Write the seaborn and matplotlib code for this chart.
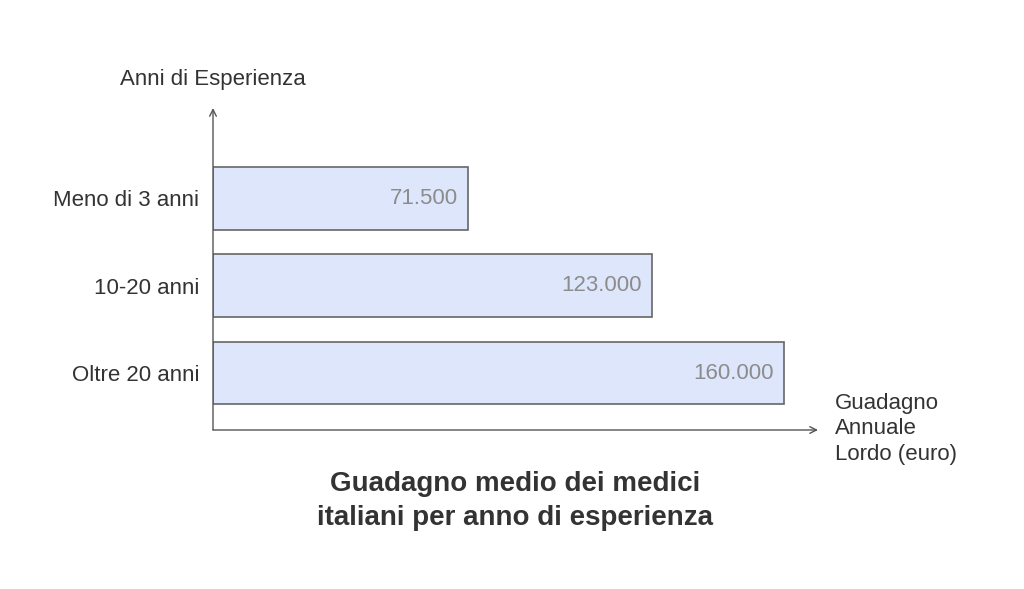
import matplotlib
matplotlib.use("Agg")
import matplotlib.pyplot as plt
import seaborn as sns
import pandas as pd

categories = ["Meno di 3 anni", "10-20 anni", "Oltre 20 anni"]
values = [71500, 123000, 160000]
value_labels = ["71.500", "123.000", "160.000"]

sns.set_theme(style="white")
plt.rcParams["font.family"] = ["Liberation Sans", "DejaVu Sans"]

df = pd.DataFrame({"cat": categories, "val": values})

fig = plt.figure(figsize=(10.24, 5.89), dpi=100)
ax = fig.add_axes([213 / 1024, 159 / 589, 605 / 1024, 322 / 589])

sns.barplot(data=df, x="val", y="cat", orient="h", color="#dde6fb",
            edgecolor="#666666", linewidth=1.2, width=0.72, saturation=1, ax=ax)

ax.set_xlim(0, 169650)
ax.set_ylim(2.653, -1.037)
for s in ax.spines.values():
    s.set_visible(False)
ax.set_xticks([])
ax.set_xlabel("")
ax.set_ylabel("")
ax.tick_params(axis="y", length=0, pad=10, labelsize=16, labelcolor="#333333")

for i, (v, lab) in enumerate(zip(values, value_labels)):
    ax.text(v - 10 * 169650 / 605, i, lab, ha="right", va="center",
            fontsize=16, color="#8c8c8c")

arrow = dict(arrowstyle="->", color="#555555", lw=1, shrinkA=0, shrinkB=0)
ax.annotate("", xy=(0, 1), xytext=(0, 0), xycoords="axes fraction", arrowprops=arrow)
ax.annotate("", xy=(1, 0), xytext=(0, 0), xycoords="axes fraction", arrowprops=arrow)

fig.text(213 / 1024, 1 - 80 / 589, "Anni di Esperienza", ha="center", va="center",
         fontsize=16, color="#333333")
fig.text(835 / 1024, 1 - 429 / 589, "Guadagno\nAnnuale\nLordo (euro)", ha="left",
         va="center", fontsize=16, color="#333333", linespacing=1.3)
fig.text(515 / 1024, 1 - 501 / 589, "Guadagno medio dei medici\nitaliani per anno di esperienza",
         ha="center", va="center", fontsize=20, fontweight="bold", color="#333333",
         linespacing=1.4)

fig.savefig("out.png", dpi=100)
